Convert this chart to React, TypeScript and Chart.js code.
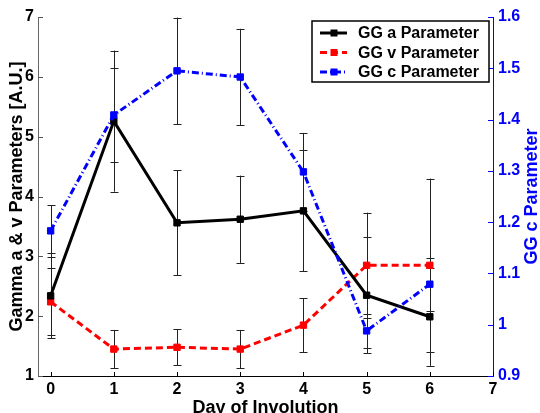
import React, { useEffect, useRef } from 'react';
import { Chart, registerables } from 'chart.js';

Chart.register(...registerables);

const days = [0, 1, 2, 3, 4, 5, 6];
const aValues = [2.34, 5.26, 3.56, 3.62, 3.76, 2.35, 1.99];
const aErrors = [0.71, 1.18, 0.88, 0.73, 1.01, 0.97, 0.82];
const vValues = [2.24, 1.45, 1.48, 1.45, 1.85, 2.85, 2.85];
const vErrors = [0.56, 0.32, 0.3, 0.32, 0.45, 0.88, 1.45];
const cValues = [1.183, 1.409, 1.495, 1.483, 1.298, 0.988, 1.079];
const cErrors = [0.05, 0.091, 0.104, 0.094, 0.076, 0.033, 0.052];

const xTicks = [0, 1, 2, 3, 4, 5, 6, 7];
const leftTicks = [1, 2, 3, 4, 5, 6, 7];
const rightTicks = [0.9, 1.0, 1.1, 1.2, 1.3, 1.4, 1.5, 1.6];

const seriesLabels = ['GG a Parameter', 'GG v Parameter', 'GG c Parameter'];
const xTitle = 'Day of Involution';
const leftTitle = 'Gamma a & v Parameters [A.U.]';
const rightTitle = 'GG c Parameter';

const FONT = "'Liberation Sans', Arial, Helvetica, sans-serif";
const BLUE = '#0000ff';
const RED = '#ff0000';
const BLACK = '#000000';

const lineStyles = [
  { color: BLACK, dash: [] as number[] },
  { color: RED, dash: [7, 4] },
  { color: BLUE, dash: [7, 3, 1, 3] },
];

const errorBarsPlugin = {
  id: 'errorBars',
  beforeDatasetsDraw(chart: any) {
    const ctx = chart.ctx;
    const xs = chart.scales.x;
    const area = chart.chartArea;
    ctx.save();
    ctx.beginPath();
    ctx.rect(area.left, area.top - 1, area.right - area.left, area.bottom - area.top + 2);
    ctx.clip();
    ctx.strokeStyle = '#222222';
    ctx.lineWidth = 1;
    chart.data.datasets.forEach((ds: any, i: number) => {
      const meta = chart.getDatasetMeta(i);
      const ys = chart.scales[meta.yAxisID];
      ds.data.forEach((p: any, j: number) => {
        const e = ds.errors[j];
        const x = Math.round(xs.getPixelForValue(p.x)) + 0.5;
        const yTop = ys.getPixelForValue(p.y + e);
        const yBot = ys.getPixelForValue(p.y - e);
        ctx.beginPath();
        ctx.moveTo(x, yTop);
        ctx.lineTo(x, yBot);
        ctx.moveTo(x - 4, Math.round(yTop) + 0.5);
        ctx.lineTo(x + 4, Math.round(yTop) + 0.5);
        ctx.moveTo(x - 4, Math.round(yBot) + 0.5);
        ctx.lineTo(x + 4, Math.round(yBot) + 0.5);
        ctx.stroke();
      });
    });
    ctx.restore();
  },
};

const decorPlugin = {
  id: 'decor',
  afterDraw(chart: any) {
    const ctx = chart.ctx;
    const { left, right, top, bottom } = chart.chartArea;
    const xs = chart.scales.x;
    const yl = chart.scales.y;
    const yr = chart.scales.y2;
    ctx.save();
    ctx.lineWidth = 1;
    // inward ticks
    ctx.strokeStyle = '#555555';
    ctx.beginPath();
    leftTicks.forEach((v) => {
      const y = Math.round(yl.getPixelForValue(v)) + 0.5;
      ctx.moveTo(left, y);
      ctx.lineTo(left + 5, y);
    });
    ctx.stroke();
    ctx.strokeStyle = BLACK;
    ctx.beginPath();
    xTicks.forEach((v) => {
      const x = Math.round(xs.getPixelForValue(v)) + 0.5;
      ctx.moveTo(x, bottom);
      ctx.lineTo(x, bottom - 4);
    });
    ctx.stroke();
    ctx.strokeStyle = BLUE;
    ctx.beginPath();
    rightTicks.forEach((v) => {
      const y = Math.round(yr.getPixelForValue(v)) + 0.5;
      ctx.moveTo(right, y);
      ctx.lineTo(right - 5, y);
    });
    ctx.stroke();

    // titles
    ctx.font = `bold 18px ${FONT}`;
    ctx.fillStyle = BLACK;
    ctx.textAlign = 'center';
    ctx.textBaseline = 'alphabetic';
    ctx.fillText(xTitle, (left + right) / 2, 413);

    ctx.save();
    ctx.translate(22, (top + bottom) / 2);
    ctx.rotate(-Math.PI / 2);
    ctx.fillText(leftTitle, 0, 0);
    ctx.restore();

    ctx.save();
    ctx.fillStyle = BLUE;
    ctx.translate(537, (top + bottom) / 2);
    ctx.rotate(-Math.PI / 2);
    ctx.fillText(rightTitle, 0, 0);
    ctx.restore();

    // legend
    const bx = 312, by = 21, bw = 177, bh = 61;
    ctx.fillStyle = '#ffffff';
    ctx.fillRect(bx, by, bw, bh);
    ctx.strokeStyle = BLACK;
    ctx.lineWidth = 1.5;
    ctx.strokeRect(bx, by, bw, bh);
    ctx.font = `bold 16px ${FONT}`;
    ctx.textAlign = 'left';
    ctx.textBaseline = 'middle';
    seriesLabels.forEach((label, i) => {
      const y = by + 12 + i * 19.5;
      const st = lineStyles[i];
      ctx.strokeStyle = st.color;
      ctx.lineWidth = 3;
      ctx.setLineDash(st.dash);
      ctx.beginPath();
      ctx.moveTo(320, y);
      ctx.lineTo(347, y);
      ctx.stroke();
      ctx.setLineDash([]);
      ctx.fillStyle = st.color;
      ctx.fillRect(330.5, y - 3.5, 7, 7);
      ctx.fillStyle = BLACK;
      ctx.fillText(label, 358, y + 1);
    });
    ctx.restore();
  },
};

export default function App() {
  const canvasRef = useRef<HTMLCanvasElement | null>(null);

  useEffect(() => {
    document.body.style.margin = '0';
    const canvas = canvasRef.current;
    if (!canvas) return;

    const tickFont = { family: FONT, size: 16, weight: 'bold' as const };

    const mk = (vals: number[], errs: number[], idx: number, label: string, axis: string, order: number) => ({
      label,
      data: days.map((d, j) => ({ x: d, y: vals[j] })),
      errors: errs,
      yAxisID: axis,
      borderColor: lineStyles[idx].color,
      backgroundColor: lineStyles[idx].color,
      borderWidth: 3,
      borderDash: lineStyles[idx].dash,
      pointStyle: 'rect',
      pointRadius: 4.5,
      pointBorderWidth: 1,
      pointBackgroundColor: lineStyles[idx].color,
      pointBorderColor: lineStyles[idx].color,
      tension: 0,
      fill: false,
      order,
    });

    const chart = new Chart(canvas, {
      type: 'line',
      data: {
        datasets: [
          mk(aValues, aErrors, 0, seriesLabels[0], 'y', 1),
          mk(vValues, vErrors, 1, seriesLabels[1], 'y', 2),
          mk(cValues, cErrors, 2, seriesLabels[2], 'y2', 0),
        ] as any,
      },
      options: {
        responsive: false,
        animation: false,
        devicePixelRatio: 1,
        layout: { padding: { top: 17, left: 0, right: 0, bottom: 0 } },
        plugins: { legend: { display: false }, tooltip: { enabled: false } },
        scales: {
          x: {
            type: 'linear',
            position: 'bottom',
            min: -0.2,
            max: 7,
            grid: { display: false, drawTicks: false },
            border: { display: true, color: BLACK, width: 1 },
            ticks: { font: tickFont, color: BLACK, padding: 4, maxRotation: 0, autoSkip: false },
            afterBuildTicks: (s: any) => {
              s.ticks = xTicks.map((v) => ({ value: v }));
            },
            afterFit: (s: any) => {
              s.height = 37;
            },
          },
          y: {
            type: 'linear',
            position: 'left',
            min: 1,
            max: 7,
            grid: { display: false, drawTicks: false },
            border: { display: true, color: '#666666', width: 1 },
            ticks: { font: tickFont, color: BLACK, padding: 4 },
            afterBuildTicks: (s: any) => {
              s.ticks = leftTicks.map((v) => ({ value: v }));
            },
            afterFit: (s: any) => {
              s.width = 38;
            },
          },
          y2: {
            type: 'linear',
            position: 'right',
            min: 0.9,
            max: 1.6,
            grid: { display: false, drawTicks: false },
            border: { display: true, color: BLUE, width: 1 },
            ticks: {
              font: tickFont,
              color: BLUE,
              padding: 5,
              callback: (v: any) => String(Number(Number(v).toFixed(1))),
            },
            afterBuildTicks: (s: any) => {
              s.ticks = rightTicks.map((v) => ({ value: v }));
            },
            afterFit: (s: any) => {
              s.width = 47;
            },
          },
        },
      } as any,
      plugins: [errorBarsPlugin, decorPlugin],
    });

    return () => {
      chart.destroy();
    };
  }, []);

  return (
    <canvas
      ref={canvasRef}
      width={540}
      height={413}
      style={{ display: 'block', width: '540px', height: '413px' }}
    />
  );
}
